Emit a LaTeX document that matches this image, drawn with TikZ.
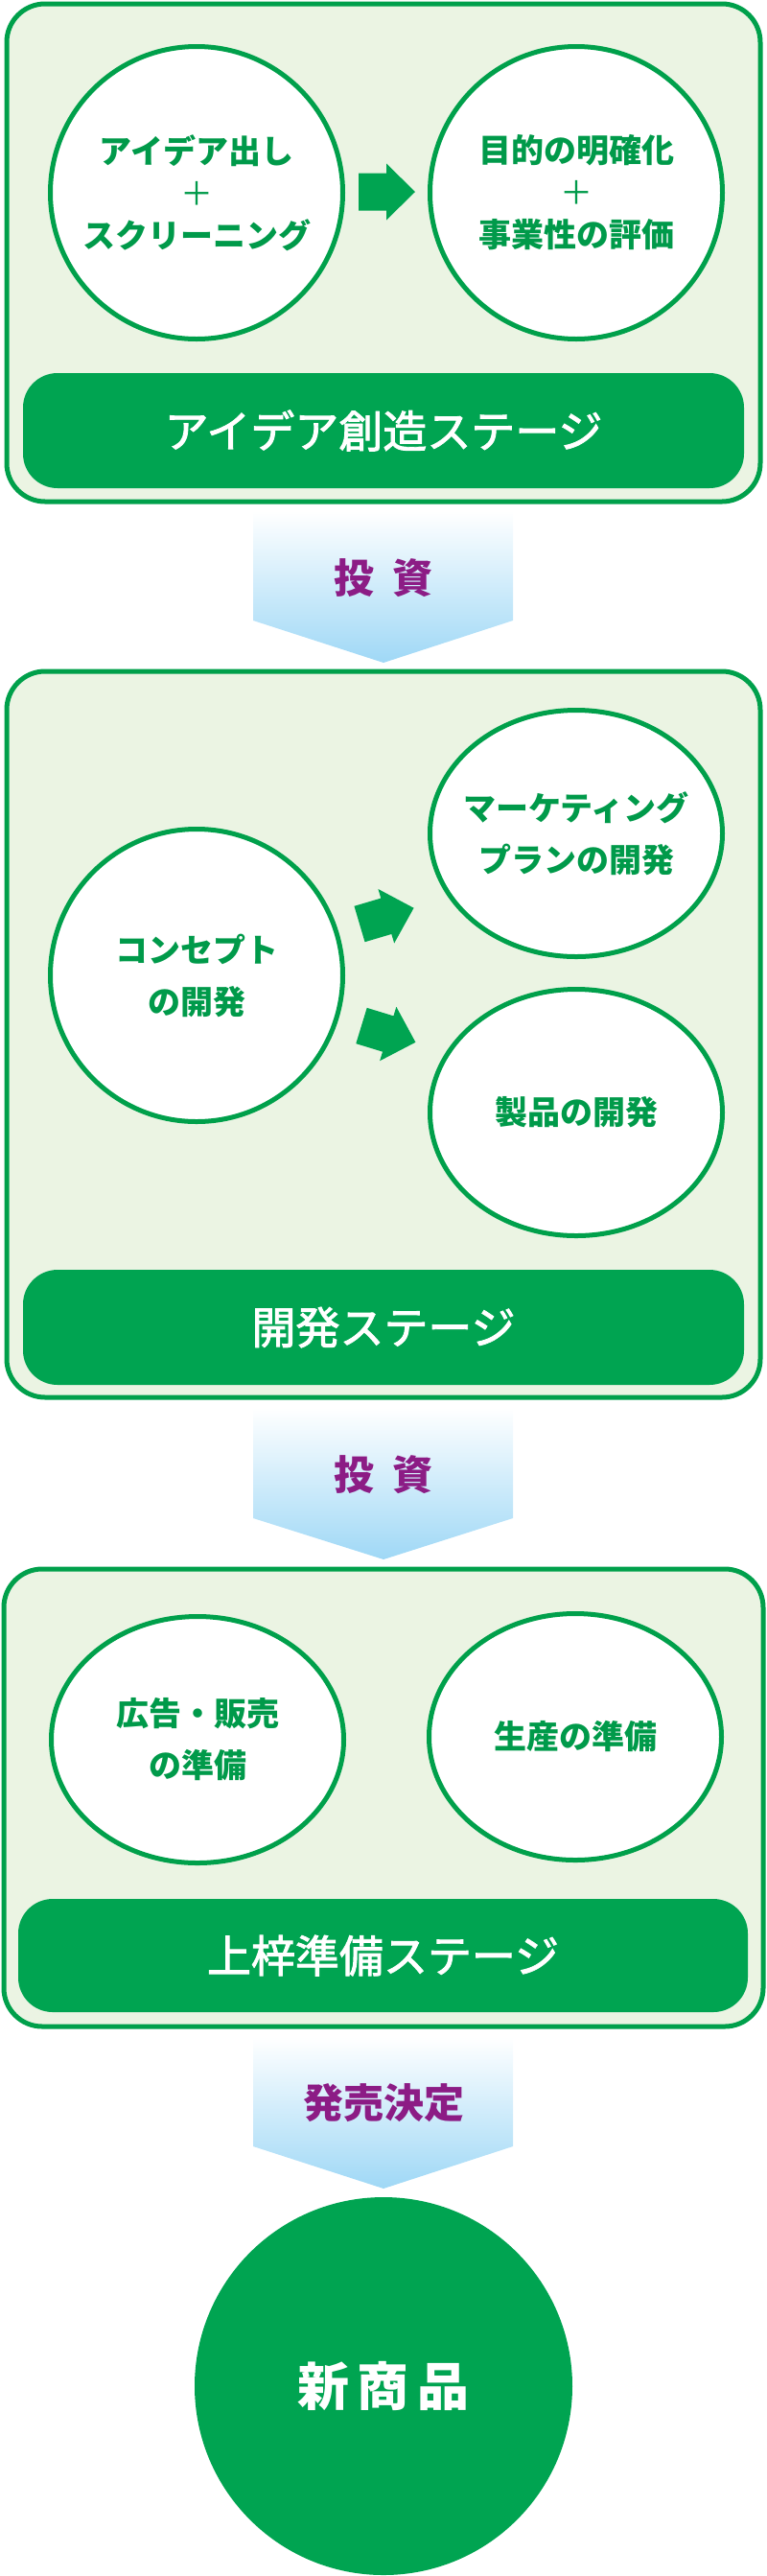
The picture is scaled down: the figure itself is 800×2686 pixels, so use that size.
\documentclass[tikz,border=0pt]{standalone}
\usepackage{fontspec}
\newfontfamily\jp{Noto Sans CJK JP}
\newfontfamily\jpbar{Noto Sans CJK JP}[FakeBold=2]
\usetikzlibrary{shapes.geometric}
\definecolor{gline}{HTML}{00A04B}
\definecolor{gfill}{HTML}{00A451}
\definecolor{gtext}{HTML}{009A4A}
\definecolor{lightfill}{HTML}{EBF4E3}
\definecolor{invpurple}{HTML}{8C1C85}
\definecolor{arrowblue}{HTML}{9FD8F6}
\tikzset{
  stagebox/.style={draw=gline, line width=5pt, fill=lightfill, rounded corners=40pt, inner sep=0pt},
  stagebar/.style={fill=gfill, rounded corners=36pt, text=white, font=\jpbar\fontsize{46pt}{52pt}\selectfont, minimum width=752pt, minimum height=120pt, inner sep=0pt},
  bubble/.style={ellipse, draw=gline, line width=5pt, fill=white, text=gtext, align=center, inner xsep=-40pt, inner ysep=0pt, font=\jp\bfseries\fontsize{34pt}{54pt}\selectfont},
  tightbubble/.style={bubble, font=\jp\bfseries\fontsize{34pt}{44pt}\selectfont},
  invlabel/.style={text=invpurple, font=\jp\bfseries\fontsize{42pt}{48pt}\selectfont, inner sep=0pt},
  invarrow/.style={top color=white, bottom color=arrowblue},
  blockarrow/.pic={\fill[gfill] (0,-19.5) -- (29,-19.5) -- (29,-29.5) -- (59,0) -- (29,29.5) -- (29,19.5) -- (0,19.5) -- cycle;}
}
\begin{document}
\begin{tikzpicture}[x=1pt,y=-1pt]
\useasboundingbox (0,0) rectangle (800,2686);

% ---------- stage 1 ----------
\node[stagebox, minimum width=786pt, minimum height=519pt] (box1) at (400,263.5) {};
\node[tightbubble, minimum width=305pt, minimum height=305pt] (idea) at (205,201) {アイデア出し\\{\mdseries ＋}\\スクリーニング};
\node[tightbubble, minimum width=305pt, minimum height=305pt] (purpose) at (601,201) {目的の明確化\\{\mdseries ＋}\\事業性の評価};
\pic at (374,200) {blockarrow};
\node[stagebar] (bar1) at (400,449) {アイデア創造ステージ};

% ---------- arrow 1 ----------
\shade[invarrow] (264,533) -- (535,533) -- (535,647) -- (400,691) -- (264,647) -- cycle;
\node[invlabel] (inv1) at (400,603) {投\hspace{0.45em}資};

% ---------- stage 2 ----------
\node[stagebox, minimum width=786pt, minimum height=757pt] (box2) at (400,1078.5) {};
\node[bubble, minimum width=305pt, minimum height=305pt] (concept) at (205,1017) {コンセプト\\の開発};
\node[bubble, minimum width=305pt, minimum height=257pt] (marketing) at (601,869) {マーケティング\\プランの開発};
\node[bubble, minimum width=305pt, minimum height=257pt] (product) at (601,1160) {製品の開発};
\pic[rotate=16.5] at (375,963.5) {blockarrow};
\pic[rotate=-17] at (377,1069.5) {blockarrow};
\node[stagebar] (bar2) at (400,1384) {開発ステージ};

% ---------- arrow 2 ----------
\shade[invarrow] (264,1468) -- (535,1468) -- (535,1583) -- (400,1626) -- (264,1583) -- cycle;
\node[invlabel] (inv2) at (400,1538) {投\hspace{0.45em}資};

% ---------- stage 3 ----------
\node[stagebox, minimum width=792pt, minimum height=477pt] (box3) at (400,1874.5) {};
\node[bubble, minimum width=305pt, minimum height=257pt] (adsales) at (206,1814) {広告・販売\\の準備};
\node[bubble, minimum width=305pt, minimum height=257pt] (production) at (600,1811) {生産の準備};
\node[stagebar, minimum width=761pt, minimum height=118pt] (bar3) at (399.5,2039) {上梓準備ステージ};

% ---------- arrow 3 ----------
\shade[invarrow] (264,2124) -- (535,2124) -- (535,2238) -- (400,2282) -- (264,2238) -- cycle;
\node[invlabel] (launch) at (400,2193) {発売決定};

% ---------- new product ----------
\node[circle, fill=gfill, minimum size=394pt, inner sep=0pt, text=white, font=\jp\bfseries\fontsize{54pt}{60pt}\selectfont] (newprod) at (400,2488) {新\hspace{9pt}商\hspace{9pt}品};
\end{tikzpicture}
\end{document}
